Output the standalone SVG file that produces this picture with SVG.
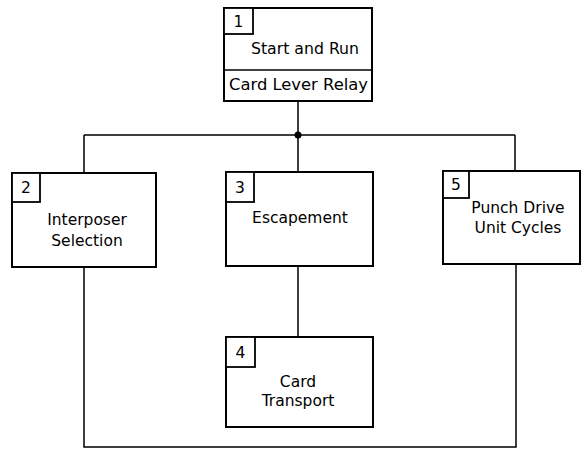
<svg xmlns="http://www.w3.org/2000/svg" width="582" height="449" viewBox="0 0 582 449">
<style>
.box{fill:#fff;stroke:#000;stroke-width:2}
.nb{fill:#fff;stroke:#000;stroke-width:1.8}
.ln{fill:none;stroke:#000;stroke-width:1.5}
text{font-family:"DejaVu Sans","Liberation Sans",sans-serif;font-size:15.5px;fill:#000}
.c{text-anchor:middle}
</style>
<rect width="582" height="449" fill="#fff"/>
<g id="connectors">
<path class="ln" d="M298,101 V172 M84,135 H515 M84,135 V173 M515,135 V171 M298,266 V337"/>
<path class="ln" d="M84,267 V447 H516 V264"/>
<circle cx="298" cy="135" r="3.5" fill="#000"/>
</g>
<g id="node1">
<rect class="box" x="224" y="8" width="148" height="93"/>
<line class="ln" x1="224" y1="70" x2="372" y2="70" stroke-width="2"/>
<rect class="nb" x="224" y="8" width="29" height="26"/>
<text class="c" x="238.5" y="27">1</text>
<text x="251" y="54" textLength="108" lengthAdjust="spacingAndGlyphs">Start and Run</text>
<text x="229" y="90" textLength="139" lengthAdjust="spacingAndGlyphs">Card Lever Relay</text>
</g>
<g id="node2">
<rect class="box" x="12" y="173" width="144" height="94"/>
<rect class="nb" x="12" y="173" width="28" height="29"/>
<text class="c" x="26" y="193">2</text>
<text class="c" x="87" y="225">Interposer</text>
<text class="c" x="87" y="246">Selection</text>
</g>
<g id="node3">
<rect class="box" x="226" y="172" width="147" height="94"/>
<rect class="nb" x="226" y="172" width="28" height="30"/>
<text class="c" x="240" y="193">3</text>
<text class="c" x="300" y="223">Escapement</text>
</g>
<g id="node4">
<rect class="box" x="226" y="337" width="147" height="90"/>
<rect class="nb" x="226" y="337" width="29" height="30"/>
<text class="c" x="240.5" y="358">4</text>
<text class="c" x="298" y="387">Card</text>
<text class="c" x="298" y="406">Transport</text>
</g>
<g id="node5">
<rect class="box" x="443" y="171" width="137" height="93"/>
<rect class="nb" x="443" y="171" width="26" height="27"/>
<text class="c" x="456" y="190">5</text>
<text class="c" x="518" y="213">Punch Drive</text>
<text class="c" x="518" y="233">Unit Cycles</text>
</g>
</svg>
